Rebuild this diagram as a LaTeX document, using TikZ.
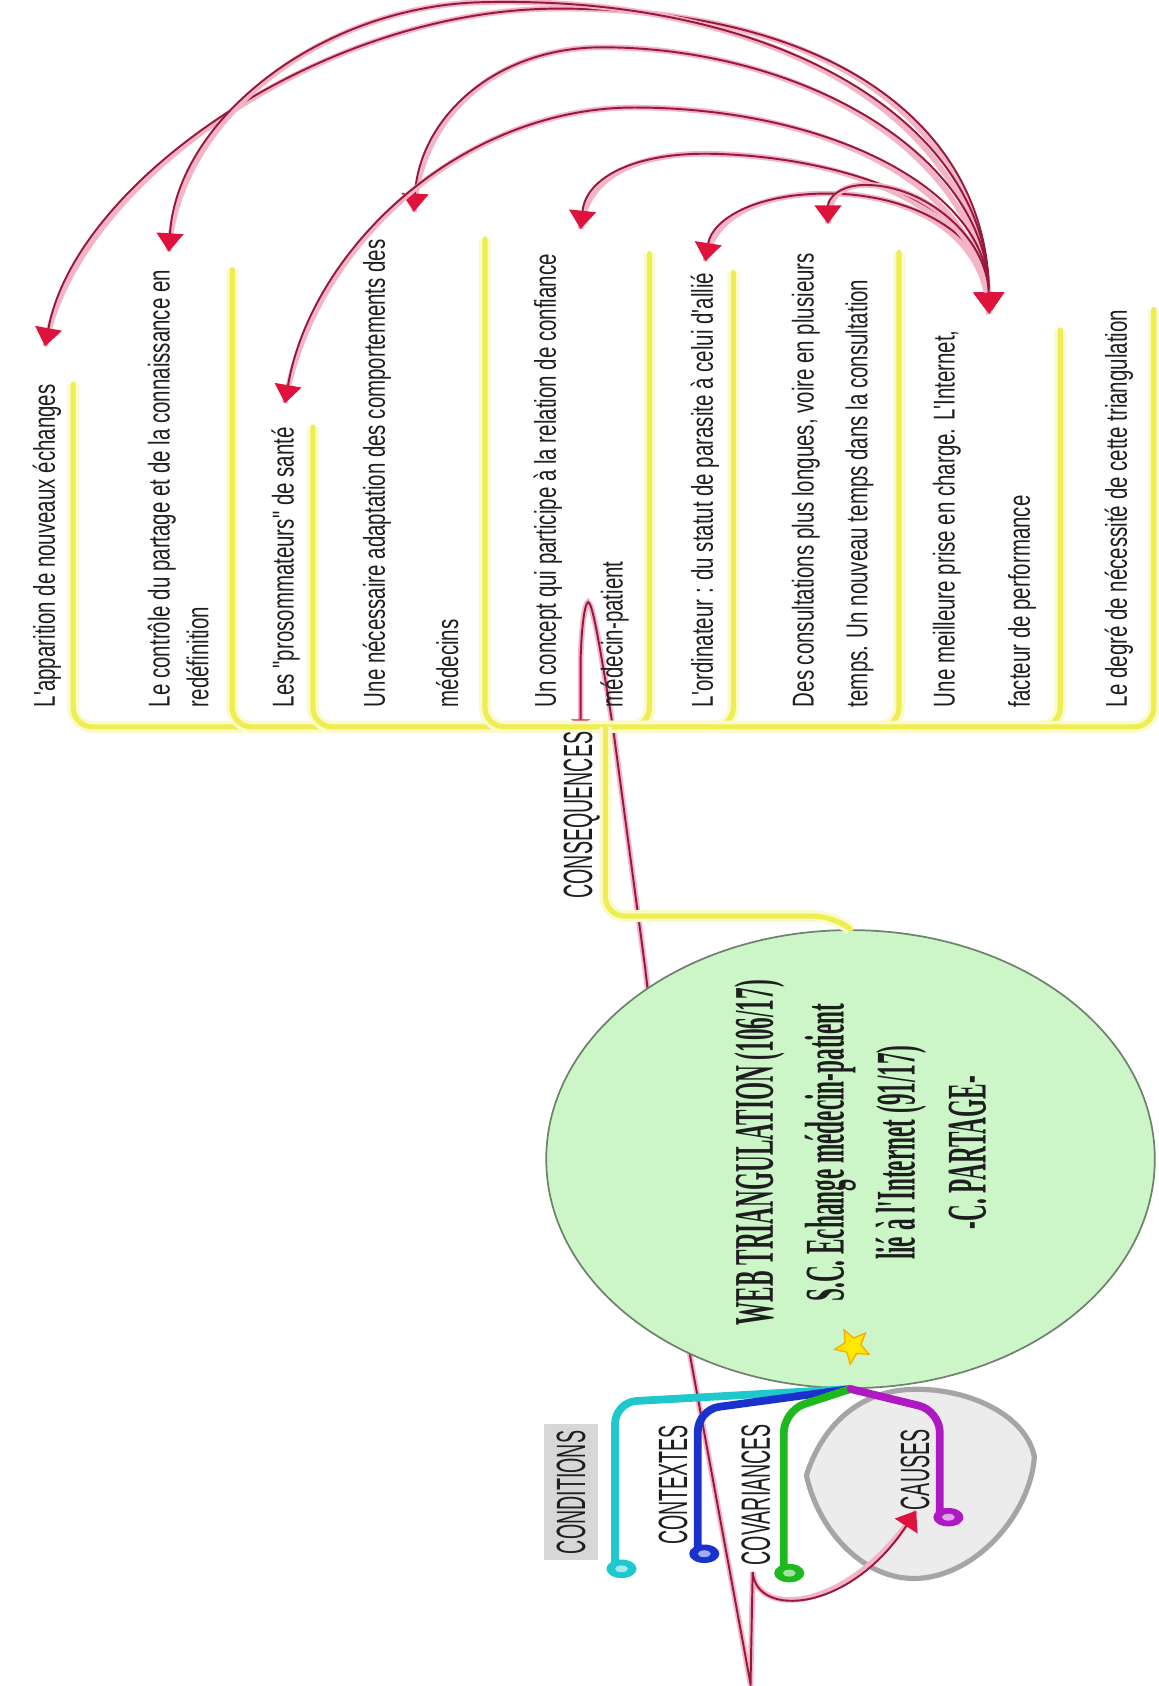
\documentclass[tikz,border=0pt]{standalone}
\usepackage{fontspec}
\setmainfont{Liberation Sans}
\newfontfamily\consfont[FakeStretch=0.68]{Liberation Sans}
\newfontfamily\labfont[FakeStretch=0.48]{Liberation Sans}
\newfontfamily\centfont[FakeStretch=0.415]{Liberation Serif}
\usetikzlibrary{arrows.meta,calc,shapes.geometric}
\definecolor{yel}{RGB}{238,238,80}
\definecolor{yelglow}{RGB}{250,250,205}
\definecolor{relred}{RGB}{150,25,60}
\definecolor{relpink}{RGB}{242,180,198}
\definecolor{tipred}{RGB}{222,18,58}
\definecolor{circfill}{RGB}{204,245,200}
\definecolor{circdraw}{RGB}{110,130,110}
\definecolor{ccyan}{RGB}{30,200,205}
\definecolor{cblue}{RGB}{25,50,205}
\definecolor{cgreen}{RGB}{30,185,30}
\definecolor{cmag}{RGB}{175,25,195}
\definecolor{cloudfill}{RGB}{236,236,236}
\definecolor{clouddraw}{RGB}{165,165,165}
\definecolor{condbox}{RGB}{215,215,215}
\definecolor{txt}{RGB}{30,30,30}
\tikzset{
  redtip/.tip={Triangle[width=12.5pt,length=8.5pt,color=tipred]},
  hubtip/.tip={Triangle[width=14pt,length=10pt,color=tipred]},
  flattip/.tip={Triangle[width=9pt,length=2.5pt,color=tipred]},
  cons/.style={rotate=90, anchor=north west, align=left, inner sep=0pt,
    font=\consfont\fontsize{14}{18}\selectfont, text=txt},
  lab/.style={rotate=90, inner sep=0pt, font=\labfont\fontsize{19}{20}\selectfont, text=txt},
  yl/.style={draw=yel, line width=2.4pt, rounded corners=9pt, line cap=round,
    preaction={draw=yelglow, line width=5.5pt, rounded corners=9pt}},
  rel/.style={draw=relred, line width=0.9pt, preaction={draw=relpink, line width=2.6pt, -}},
  br/.style={line width=3.6pt, rounded corners=10pt, line cap=round},
}
\begin{document}
\begin{tikzpicture}[x=0.5pt,y=-0.5pt]
\useasboundingbox (0,0) rectangle (1077,1568);
\fill[white] (0,0) rectangle (1077,1568);

% named points
\coordinate (J) at (563,676);
\coordinate (S) at (540,674);
\coordinate (t1) at (42,322);
\coordinate (t2) at (157,234);
\coordinate (t3) at (265,375);
\coordinate (t4) at (385,197);
\coordinate (t5) at (540,213);
\coordinate (t6) at (656,243);
\coordinate (t7) at (770,208);
\coordinate (hub) at (920,292);
\coordinate (cT) at (852,1405);

% cloud of CAUSES
\draw[fill=cloudfill, draw=clouddraw, line width=2.4pt] (750,1372)
  .. controls (765,1325) and (800,1292) .. (852,1292)
  .. controls (905,1292) and (955,1318) .. (962,1355)
  .. controls (958,1410) and (905,1468) .. (850,1468)
  .. controls (800,1468) and (760,1420) .. (750,1372) -- cycle;

% long relationship line (partly under the circle)
\draw[rel, {flattip}-{redtip}] (S) -- (540,612) .. controls (541,580) and (544,561) .. (547,560)
  .. controls (551,561) and (557,595) .. (570,676) -- (600,900) -- (642,1262) -- (698,1566)
  -- (700,1462) .. controls (703,1505) and (790,1500) .. (cT);

% consequence nodes
\node[cons] (n1) at (30,658) {L'apparition de nouveaux échanges};
\node[cons] (n2) at (137,658) {Le contrôle du partage et de la connaissance en\\redéfinition};
\node[cons] (n3) at (252,658) {Les "prosommateurs" de santé};
\node[cons] (n4) at (337,658) {Une nécessaire adaptation des comportements des\\[16pt]médecins};
\node[cons] (n5) at (496,658) {Un concept qui participe à la relation de confiance\\[13pt]médecin-patient};
\node[cons] (n6) at (642,658) {L'ordinateur : du statut de parasite à celui d'allié};
\node[cons] (n7) at (736,658) {Des consultations plus longues, voire en plusieurs\\[7pt]temps. Un nouveau temps dans la consultation};
\node[cons] (n8) at (867,658) {Une meilleure prise en charge. L'Internet,\\[17pt]facteur de performance};
\node[cons] (n9) at (1027,658) {Le degré de nécessité de cette triangulation};

% yellow connectors
\draw[yl] (68,0 |- n1.east) -- (68,676) -- (J);
\draw[yl] (216,0 |- n2.east) -- (216,676) -- (J);
\draw[yl] (291,0 |- n3.east) -- (291,676) -- (J);
\draw[yl] (451,0 |- n4.east) -- (451,676) -- (J);
\draw[yl] (604,0 |- n5.east) -- (604,676) -- (J);
\draw[yl] (682,0 |- n6.east) -- (682,676) -- (J);
\draw[yl] (836,0 |- n7.east) -- (836,676) -- (J);
\draw[yl] (986,0 |- n8.east) -- (986,676) -- (J);
\draw[yl] (1073,0 |- n9.east) -- (1073,676) -- (J);

% central topic
\node[ellipse, draw=circdraw, fill=circfill, line width=0.8pt, minimum width=283pt,
  minimum height=213pt, inner sep=0pt] (circ) at (791,1078) {};
\draw[yl] (J) -- (563,852) -- (775,852) -- (circ.north);
\node[rotate=90, align=center, inner sep=0pt, text=txt,
  font=\centfont\bfseries\fontsize{26}{33}\selectfont] (ctext) at (800,1072)
  {WEB TRIANGULATION (106/17)\\S.C. Echange médecin-patient\\lié à l'Internet (91/17)\\-C. PARTAGE-};
\node[star, star points=5, star point ratio=2.2, fill=yellow!90!orange, draw=orange!70!yellow,
  line width=0.6pt, minimum size=17pt, inner sep=0pt, rotate=100] (star) at (793,1252) {};

% CONSEQUENCES label
\node[lab] (cons) at (541,758) {CONSEQUENCES};

% labels
\node[lab, fill=condbox, inner xsep=3pt, inner ysep=6pt] (cond) at (531,1388) {CONDITIONS};
\node[lab] (ctx) at (626,1381) {CONTEXTES};
\node[lab] (cov) at (703,1390) {COVARIANCES};
\node[lab] (cau) at (851,1367) {CAUSES};

% branch ends
\coordinate (dc) at (578,1459);
\coordinate (db) at (655,1445);
\coordinate (dg) at (734,1463);
\coordinate (dm) at (882,1411);
\draw[br, draw=ccyan] (circ.south) -- (572,1304) -- (572,1457);
\draw[br, draw=cblue] (circ.south) -- (649,1311) -- (649,1443);
\draw[br, draw=cgreen] (circ.south) -- (729,1312) -- (729,1461);
\draw[br, draw=cmag] (circ.south) -- (874,1312) -- (874,1409);
\fill[ccyan] (dc) ellipse [x radius=7pt, y radius=4.3pt];
\fill[ccyan!40!white] (dc) ellipse [x radius=3pt, y radius=1.6pt];
\fill[cblue] (db) ellipse [x radius=7pt, y radius=4.3pt];
\fill[cblue!40!white] (db) ellipse [x radius=3pt, y radius=1.6pt];
\fill[cgreen] (dg) ellipse [x radius=7pt, y radius=4.3pt];
\fill[cgreen!40!white] (dg) ellipse [x radius=3pt, y radius=1.6pt];
\fill[cmag] (dm) ellipse [x radius=7pt, y radius=4.3pt];
\fill[cmag!40!white] (dm) ellipse [x radius=3pt, y radius=1.6pt];

% top relationship arcs
\draw[rel, {redtip}-{hubtip}] (t1) .. controls (70,170) and (300,8) .. (520,8)
  .. controls (780,8) and (918,120) .. (hub);
\draw[rel, {redtip}-{hubtip}] (t2) .. controls (165,110) and (300,5) .. (450,2)
  .. controls (720,-4) and (918,110) .. (hub);
\draw[rel, {redtip}-{hubtip}] (t4) .. controls (390,110) and (460,44) .. (560,44)
  .. controls (740,44) and (918,140) .. (hub);
\draw[rel, {redtip}-{hubtip}] (t3) .. controls (290,230) and (430,100) .. (590,100)
  .. controls (760,100) and (918,170) .. (hub);
\draw[rel, {redtip}-{hubtip}] (t5) .. controls (545,165) and (590,142) .. (660,143)
  .. controls (780,145) and (918,190) .. (hub);
\draw[rel, {redtip}-{hubtip}] (t6) .. controls (662,205) and (700,180) .. (770,180)
  .. controls (850,180) and (918,220) .. (hub);
\draw[rel, {redtip}-{hubtip}] (t7) .. controls (770,185) and (780,172) .. (805,172)
  .. controls (860,172) and (918,220) .. (hub);
\end{tikzpicture}
\end{document}
